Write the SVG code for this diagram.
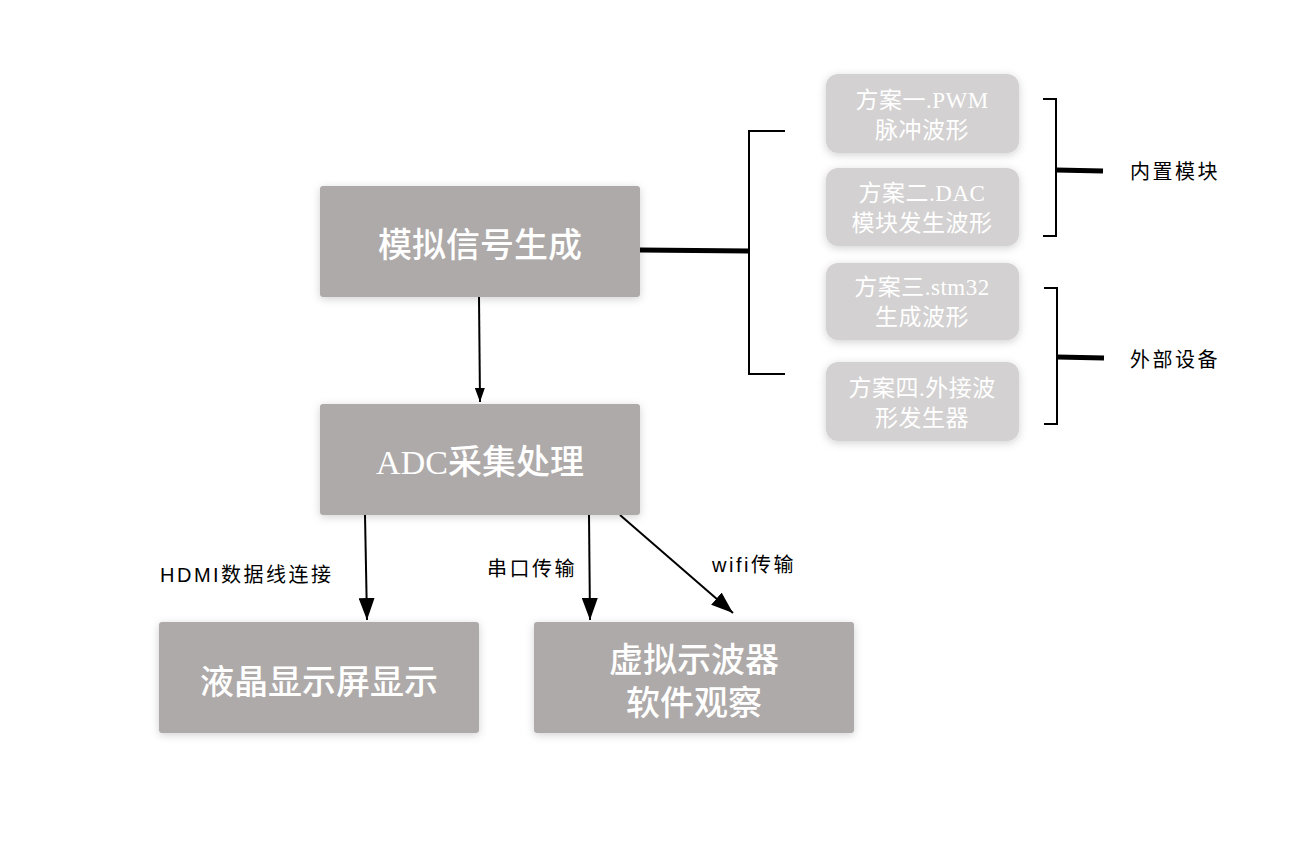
<svg xmlns="http://www.w3.org/2000/svg" width="1294" height="846" viewBox="0 0 1294 846">
<defs>
<filter id="sh" x="-20%" y="-30%" width="140%" height="160%"><feDropShadow dx="0" dy="2" stdDeviation="4" flood-color="#000" flood-opacity="0.18"/></filter>
<marker id="ah" viewBox="0 0 10 10" refX="10" refY="5" markerWidth="11" markerHeight="8" markerUnits="strokeWidth" orient="auto" preserveAspectRatio="none"><path d="M0,0 L10,5 L0,10 z" fill="#000"/></marker>
<marker id="ahs" viewBox="0 0 10 10" refX="10" refY="5" markerWidth="7" markerHeight="5" markerUnits="strokeWidth" orient="auto" preserveAspectRatio="none"><path d="M0,0 L10,5 L0,10 z" fill="#000"/></marker>
<style>
.big{fill:#aeaaa9;filter:url(#sh)}
.sm{fill:#d3d1d1;filter:url(#sh)}
.bt{font-family:"Liberation Serif","Noto Sans CJK SC",serif;font-size:34px;font-weight:500;fill:#fff;text-anchor:middle}
.st{font-family:"Liberation Serif","Noto Sans CJK SC",serif;font-size:23px;fill:#fff;text-anchor:middle;letter-spacing:0.5px}
.lb{font-family:"Liberation Sans","Noto Sans CJK SC",sans-serif;font-size:20px;fill:#000;letter-spacing:2.5px}
.ln{stroke:#000;stroke-width:2;fill:none}
.tk{stroke:#000;stroke-width:5;fill:none}
</style>
</defs>
<rect width="1294" height="846" fill="#fff"/>
<g id="connectors">
<line class="ln" x1="479" y1="297" x2="480" y2="402" marker-end="url(#ahs)"/>
<line class="ln" x1="365" y1="515" x2="367" y2="620" marker-end="url(#ah)"/>
<line class="ln" x1="589" y1="515" x2="590" y2="620" marker-end="url(#ah)"/>
<line class="ln" x1="620" y1="515" x2="733" y2="613" marker-end="url(#ah)"/>
<line class="tk" x1="640" y1="250" x2="749" y2="251"/>
<path class="ln" d="M785,131 H749 V374 H785"/>
<path class="ln" d="M1043,99 H1056 V236 H1043"/>
<line class="tk" x1="1056" y1="170" x2="1103" y2="171"/>
<path class="ln" d="M1044,288 H1057 V424 H1044"/>
<line class="tk" x1="1057" y1="357" x2="1104" y2="358"/>
<text class="lb" x="160" y="582">HDMI数据线连接</text>
<text class="lb" x="487" y="576">串口传输</text>
<text class="lb" x="712" y="572">wifi传输</text>
<text class="lb" x="1130" y="179">内置模块</text>
<text class="lb" x="1130" y="367">外部设备</text>
</g>
<g id="n1"><rect class="big" x="320" y="186" width="320" height="111" rx="3"/><text class="bt" x="480" y="257">模拟信号生成</text></g>
<g id="n2"><rect class="big" x="320" y="404" width="320" height="111" rx="3"/><text class="bt" x="480" y="474">ADC采集处理</text></g>
<g id="n3"><rect class="big" x="159" y="622" width="320" height="111" rx="3"/><text class="bt" x="319" y="694">液晶显示屏显示</text></g>
<g id="n4"><rect class="big" x="534" y="622" width="320" height="111" rx="3"/><text class="bt" x="694" y="672">虚拟示波器</text><text class="bt" x="694" y="715">软件观察</text></g>
<g id="s1"><rect class="sm" x="826" y="74" width="193" height="79" rx="12"/><text class="st" x="922" y="108">方案一.PWM</text><text class="st" x="922" y="138">脉冲波形</text></g>
<g id="s2"><rect class="sm" x="826" y="168" width="193" height="78" rx="12"/><text class="st" x="922" y="201">方案二.DAC</text><text class="st" x="922" y="231">模块发生波形</text></g>
<g id="s3"><rect class="sm" x="826" y="263" width="193" height="77" rx="12"/><text class="st" x="922" y="295">方案三.stm32</text><text class="st" x="922" y="325">生成波形</text></g>
<g id="s4"><rect class="sm" x="826" y="362" width="193" height="79" rx="12"/><text class="st" x="922" y="396">方案四.外接波</text><text class="st" x="922" y="426">形发生器</text></g>
</svg>
